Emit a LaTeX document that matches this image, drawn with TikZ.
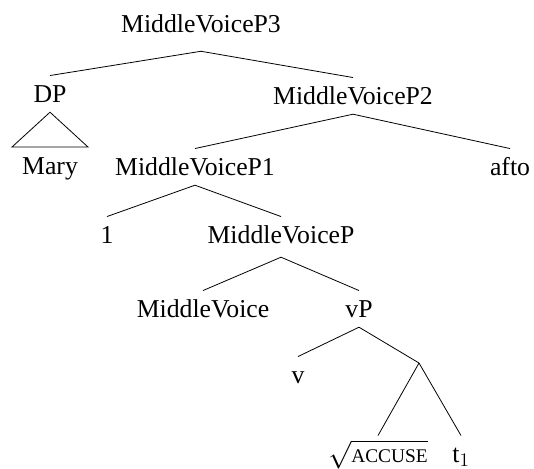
\documentclass[tikz,border=0pt]{standalone}
\usepackage{fontspec}
\setmainfont{Liberation Serif}
\usepackage{tikz}

\newcommand{\smcaps}[1]{{\fontsize{14.5}{17}\selectfont #1}}

\begin{document}
\begin{tikzpicture}[
    x=0.75pt, y=-0.75pt,
    every node/.style={font=\fontsize{19.3}{23}\selectfont, anchor=base, inner xsep=0pt, inner ysep=2.25pt, text height=17.4pt, text depth=5.2pt},
    branch/.style={line width=0.6pt}
]
\useasboundingbox (0,0) rectangle (534,468);
\node[text depth=12pt] (root) at (201,32) {MiddleVoiceP3};
\node (dp) at (50,102) {DP};
\node (mary) at (50,174) {Mary};
\node (mvp2) at (353,104) {MiddleVoiceP2};
\node (mvp1) at (195,175) {MiddleVoiceP1};
\node (afto) at (510,175) {afto};
\node (one) at (107,243) {1};
\node[text depth=8.2pt] (mvp) at (281,243) {MiddleVoiceP};
\node (mv) at (203,317) {MiddleVoice};
\node (vp) at (359,317) {vP};
\node (v) at (298,383) {v};
\coordinate (bar) at (419,363);
\node (accuse) at (378,462) {$\sqrt{\mbox{\smcaps{ACCUSE}}}$};
\node (trace) at (461,462) {t$_1$};
\coordinate (tri-l) at (12,147);
\coordinate (tri-r) at (88,147);
\draw[branch] (root.south) -- (dp.north);
\draw[branch] (root.south) -- (mvp2.north);
\draw[branch] (dp.south) -- (tri-l) -- (tri-r) -- cycle;
\draw[branch] (mvp2.south) -- (mvp1.north);
\draw[branch] (mvp2.south) -- (afto.north);
\draw[branch] (mvp1.south) -- (one.north);
\draw[branch] (mvp1.south) -- (mvp.north);
\draw[branch] (mvp.south) -- (mv.north);
\draw[branch] (mvp.south) -- (vp.north);
\draw[branch] (vp.south) -- (v.north);
\draw[branch] (vp.south) -- (bar);
\draw[branch] (bar) -- (accuse.north);
\draw[branch] (bar) -- (trace.north);
\end{tikzpicture}
\end{document}
